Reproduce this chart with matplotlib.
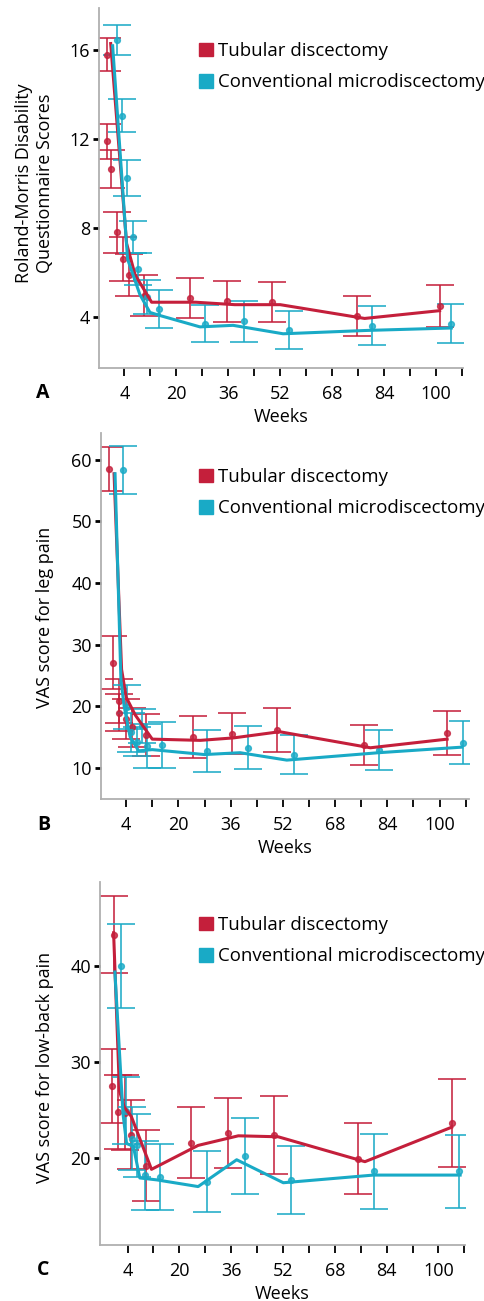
import matplotlib
matplotlib.use("Agg")
import matplotlib.pyplot as plt
from matplotlib.patches import Patch

# ---------------- Data ---------------- #

# A: Roland-Morris Disability Questionnaire
a_tub_wk = [-1.2, -1.2, -0.1, 1.6, 3.7, 5.5, 10.0, 24.2, 35.7, 49.6, 75.7, 101.1]
a_tub = [15.8, 11.9, 10.65, 7.8, 6.6, 5.9, 4.95, 4.85, 4.7, 4.65, 4.05, 4.5]
a_tub_err = [0.73, 0.8, 0.87, 0.93, 1.0, 0.94, 0.93, 0.92, 0.92, 0.9, 0.9, 0.95]
a_con_wk = [1.6, 3.4, 4.7, 6.8, 8.3, 10.9, 14.7, 28.8, 40.9, 54.8, 80.4, 104.7]
a_con = [16.45, 13.05, 10.25, 7.6, 6.15, 4.9, 4.35, 3.7, 3.8, 3.4, 3.6, 3.7]
a_con_err = [0.67, 0.75, 0.81, 0.72, 0.72, 0.75, 0.87, 0.82, 0.93, 0.85, 0.88, 0.88]
a_tub_fit_wk = [-0.2, 4.7, 7.3, 12.4, 26.0, 38.0, 52.0, 78.0, 101.1]
a_tub_fit = [16.3, 7.3, 5.9, 4.66, 4.66, 4.55, 4.55, 3.93, 4.28]
a_con_fit_wk = [0.4, 5.0, 8.8, 11.9, 15.0, 27.3, 37.5, 52.9, 78.6, 104.7]
a_con_fit = [16.2, 6.6, 5.0, 4.2, 4.06, 3.55, 3.62, 3.24, 3.39, 3.5]

# B: VAS leg pain
b_tub_wk = [-1.2, 0.1, 1.8, 1.95, 4.0, 5.8, 10.0, 24.4, 36.4, 50.2, 76.7, 102.3]
b_tub = [58.5, 27.1, 20.9, 19.0, 18.0, 16.6, 15.3, 15.1, 15.6, 16.2, 13.8, 15.7]
b_tub_err = [3.6, 4.3, 3.6, 3.0, 3.2, 3.1, 3.4, 3.4, 3.35, 3.6, 3.25, 3.5]
b_con_wk = [2.9, 4.3, 5.6, 7.2, 8.8, 10.5, 14.9, 28.9, 41.2, 55.3, 81.3, 107.2]
b_con = [58.3, 19.9, 15.8, 14.3, 16.8, 13.6, 13.8, 12.8, 13.3, 12.2, 13.0, 14.1]
b_con_err = [3.9, 3.6, 3.2, 2.3, 2.8, 3.6, 3.7, 3.45, 3.5, 3.1, 3.25, 3.5]
b_tub_fit_wk = [0.3, 2.6, 4.0, 6.8, 12.0, 26.7, 36.9, 51.0, 78.8, 102.3]
b_tub_fit = [57.7, 26.0, 21.5, 18.6, 14.7, 14.5, 14.9, 15.9, 13.3, 14.7]
b_con_fit_wk = [0.6, 2.4, 3.4, 5.2, 7.8, 12.0, 28.0, 38.9, 53.2, 81.3, 106.8]
b_con_fit = [57.7, 24.3, 20.0, 15.1, 12.8, 13.0, 12.2, 12.5, 11.3, 12.5, 13.4]

# C: VAS low-back pain
c_tub_wk = [-0.2, -0.9, 1.2, 3.3, 5.2, 9.6, 23.5, 35.1, 49.3, 75.3, 104.1]
c_tub = [43.3, 27.5, 24.8, 24.7, 22.4, 19.2, 21.6, 22.6, 22.4, 19.9, 23.6]
c_tub_err = [4.0, 3.85, 3.9, 3.9, 3.6, 3.7, 3.7, 3.7, 4.1, 3.7, 4.6]
c_con_wk = [1.9, 3.5, 5.5, 6.8, 9.3, 14.0, 28.4, 40.3, 54.4, 80.1, 106.2]
c_con = [40.0, 24.9, 22.0, 21.3, 18.2, 18.0, 17.5, 20.2, 17.7, 18.6, 18.6]
c_con_err = [4.4, 3.5, 3.3, 3.3, 3.6, 3.4, 3.2, 4.0, 3.55, 3.9, 3.8]
c_tub_fit_wk = [-0.3, 1.5, 3.0, 5.2, 11.4, 25.8, 38.2, 50.5, 77.3, 104.1]
c_tub_fit = [43.5, 27.0, 25.3, 24.3, 18.8, 21.3, 22.3, 22.2, 19.6, 23.2]
c_con_fit_wk = [0.1, 2.6, 3.7, 5.8, 7.8, 13.0, 25.8, 37.7, 52.1, 79.9, 106.7]
c_con_fit = [39.4, 24.6, 21.5, 21.2, 17.9, 17.7, 17.0, 19.8, 17.4, 18.2, 18.2]

week_ticks = list(range(4, 109, 8))
week_labels = [str(w) if (w - 4) % 16 == 0 else "" for w in week_ticks]
legend_labels = ["Tubular discectomy", "Conventional microdiscectomy"]

RED = "#c41f3b"
CYAN = "#19aac6"
W, H = 484, 1301

plt.rcParams["font.family"] = ["Open Sans", "DejaVu Sans"]
plt.rcParams["font.size"] = 13

fig = plt.figure(figsize=(W / 100, H / 100), dpi=100)


def px_axes(left, top, right, bottom):
    return fig.add_axes([left / W, 1 - bottom / H, (right - left) / W, (bottom - top) / H])


def draw_panel(ax, tub, con, tub_fit, con_fit, xlim, ylim, yticks, ylabel, letter, legend_y):
    for (wk, y, err), col in ((tub, RED), (con, CYAN)):
        ax.errorbar(wk, y, yerr=err, fmt="o", color=col, ms=4.2, elinewidth=1.4,
                    capsize=10, capthick=1.4, alpha=0.8, zorder=2)
    ax.plot(tub_fit[0], tub_fit[1], color=RED, lw=2.2, zorder=3)
    ax.plot(con_fit[0], con_fit[1], color=CYAN, lw=2.2, zorder=4)

    ax.set_xlim(*xlim)
    ax.set_ylim(*ylim)
    ax.set_xticks(week_ticks)
    ax.set_xticklabels(week_labels)
    ax.set_yticks(yticks)
    for s in ("top", "right"):
        ax.spines[s].set_visible(False)
    for s in ("left", "bottom"):
        ax.spines[s].set_color("#b0b0b0")
        ax.spines[s].set_linewidth(1.3)
    ax.tick_params(axis="x", length=6, width=1.3, color="black", pad=6, labelsize=13)
    ax.tick_params(axis="y", length=4.5, width=2.0, color="black", pad=2, labelsize=13)

    ax.set_xlabel("Weeks", fontsize=13, labelpad=4)
    ax.set_ylabel(ylabel, fontsize=13, linespacing=1.2)
    ax.text(-0.155, -0.07, letter, transform=ax.transAxes, fontsize=14,
            fontweight="bold", ha="center", va="center")

    handles = [Patch(color=RED), Patch(color=CYAN)]
    ax.legend(handles, legend_labels, loc="upper left", frameon=False,
              bbox_to_anchor=(199 / W, 1 - legend_y / H), bbox_transform=fig.transFigure,
              borderpad=0, borderaxespad=0, handlelength=0.75, handleheight=0.75,
              handletextpad=0.25, labelspacing=0.72, fontsize=13.4)


ax_a = px_axes(99, 8, 463, 368)
draw_panel(ax_a, (a_tub_wk, a_tub, a_tub_err), (a_con_wk, a_con, a_con_err),
           (a_tub_fit_wk, a_tub_fit), (a_con_fit_wk, a_con_fit),
           (-3.8, 108.3), (1.7, 17.9), [4, 8, 12, 16],
           "Roland-Morris Disability\nQuestionnaire Scores", "A", 42)
ax_a.yaxis.set_label_coords((54 - 99) / 364, (368 - 183) / 360)

ax_b = px_axes(101, 433, 469, 799)
draw_panel(ax_b, (b_tub_wk, b_tub, b_tub_err), (b_con_wk, b_con, b_con_err),
           (b_tub_fit_wk, b_tub_fit), (b_con_fit_wk, b_con_fit),
           (-3.7, 109.0), (5.0, 64.3), [10, 20, 30, 40, 50, 60],
           "VAS score for leg pain", "B", 468)
ax_b.yaxis.set_label_coords((54 - 101) / 368, (799 - 617) / 366)

ax_c = px_axes(100, 882, 465, 1245)
draw_panel(ax_c, (c_tub_wk, c_tub, c_tub_err), (c_con_wk, c_con, c_con_err),
           (c_tub_fit_wk, c_tub_fit), (c_con_fit_wk, c_con_fit),
           (-4.5, 108.2), (10.9, 48.8), [20, 30, 40],
           "VAS score for low-back pain", "C", 916)
ax_c.yaxis.set_label_coords((54 - 100) / 365, (1245 - 1067) / 363)

fig.savefig("out.png", dpi=100)
